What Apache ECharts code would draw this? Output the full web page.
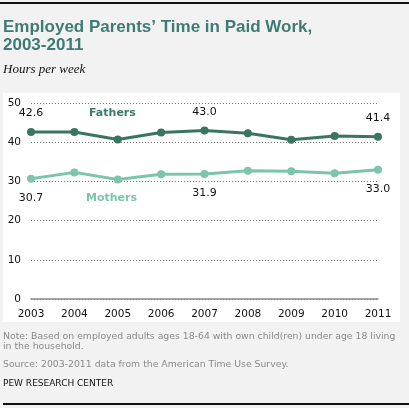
<!DOCTYPE html>
<html>
<head>
<meta charset="utf-8">
<script src="https://cdn.jsdelivr.net/npm/echarts@6/dist/echarts.min.js"></script>
<style>
  html, body { margin: 0; padding: 0; background: #f2f2f2; }
  #chart { width: 409px; height: 408px; }
</style>
</head>
<body>
<div id="chart"></div>
<script>
// ---- Data ----
const years = ['2003', '2004', '2005', '2006', '2007', '2008', '2009', '2010', '2011'];
const fathers = [42.6, 42.6, 40.7, 42.5, 43.0, 42.3, 40.6, 41.6, 41.4];
const mothers = [30.7, 32.3, 30.5, 31.8, 31.9, 32.7, 32.6, 32.1, 33.0];
const labeledYears = ['2003', '2007', '2011'];
const yTicks = { min: 0, max: 50, interval: 10 };

const titleText = 'Employed Parents\u2019 Time in Paid Work,\n2003-2011';
const subtitleText = 'Hours per week';
const noteText = 'Note: Based on employed adults ages 18-64 with own child(ren) under age 18 living\nin the household.';
const sourceText = 'Source: 2003-2011 data from the American Time Use Survey.';
const creditText = 'PEW RESEARCH CENTER';

const fatherColor = '#3a7562';
const motherColor = '#7cc4ae';

function withLabels(values, position, distance) {
  return values.map((v, i) => ({
    value: v,
    label: {
      show: labeledYears.indexOf(years[i]) !== -1,
      position: position,
      distance: distance,
      formatter: (p) => p.value.toFixed(1),
      color: '#111',
      fontFamily: 'DejaVu Sans',
      fontSize: 11
    }
  }));
}

const chart = echarts.init(document.getElementById('chart'), null, { renderer: 'canvas' });

chart.setOption({
  backgroundColor: '#f2f2f2',
  animation: false,
  title: [
    {
      text: titleText,
      left: 3, top: 18, padding: 0,
      textStyle: { fontFamily: 'Liberation Sans', fontWeight: 'bold', fontSize: 17, color: '#3e7b74', lineHeight: 18 }
    },
    {
      text: subtitleText,
      left: 3, top: 63, padding: 0,
      textStyle: { fontFamily: 'Liberation Serif', fontStyle: 'italic', fontWeight: 'normal', fontSize: 13, color: '#111' }
    },
    {
      text: noteText,
      left: 3, top: 332, padding: 0,
      textStyle: { fontFamily: 'DejaVu Sans', fontWeight: 'normal', fontSize: 9.3, color: '#8a8a8a', lineHeight: 10 }
    },
    {
      text: sourceText,
      left: 3, top: 360, padding: 0,
      textStyle: { fontFamily: 'DejaVu Sans', fontWeight: 'normal', fontSize: 9.3, color: '#8a8a8a' }
    },
    {
      text: creditText,
      left: 3, top: 379, padding: 0,
      textStyle: { fontFamily: 'DejaVu Sans', fontWeight: 'normal', fontSize: 9, color: '#111' }
    }
  ],
  graphic: [
    { type: 'rect', z: -10, silent: true, shape: { x: 3, y: 93, width: 397, height: 229 }, style: { fill: '#ffffff' } },
    { type: 'rect', z: -9, silent: true, shape: { x: 0, y: 2, width: 409, height: 2 }, style: { fill: '#111111' } },
    { type: 'rect', z: -9, silent: true, shape: { x: 3, y: 403, width: 406, height: 2 }, style: { fill: '#111111' } },
    {
      type: 'text', left: 89, top: 108,
      style: { text: 'Fathers', font: 'bold 11px "DejaVu Sans"', fill: '#3b7a6a' }
    },
    {
      type: 'text', left: 86, top: 193,
      style: { text: 'Mothers', font: 'bold 11px "DejaVu Sans"', fill: '#7cc4ae' }
    }
  ],
  grid: { left: 31, top: 103, width: 347, height: 196, containLabel: false },
  xAxis: {
    type: 'category',
    data: years,
    boundaryGap: false,
    axisLine: { show: true, lineStyle: { color: '#888', width: 1.5 } },
    axisTick: { show: false },
    axisLabel: { color: '#111', fontFamily: 'DejaVu Sans', fontSize: 10.5, margin: 10 },
    splitLine: { show: false }
  },
  yAxis: {
    type: 'value',
    min: yTicks.min, max: yTicks.max, interval: yTicks.interval,
    axisLine: { show: false },
    axisTick: { show: false },
    axisLabel: { color: '#111', fontFamily: 'DejaVu Sans', fontSize: 10.5, margin: 10 },
    splitLine: { show: true, lineStyle: { color: '#777', type: [1, 2], width: 1 } }
  },
  series: [
    {
      name: 'Fathers',
      type: 'line',
      data: withLabels(fathers, 'top', 9),
      symbol: 'circle', symbolSize: 8,
      lineStyle: { color: fatherColor, width: 3 },
      itemStyle: { color: fatherColor },
      z: 3
    },
    {
      name: 'Mothers',
      type: 'line',
      data: withLabels(mothers, 'bottom', 10),
      symbol: 'circle', symbolSize: 8,
      lineStyle: { color: motherColor, width: 3 },
      itemStyle: { color: motherColor },
      z: 3
    }
  ]
});
</script>
</body>
</html>
